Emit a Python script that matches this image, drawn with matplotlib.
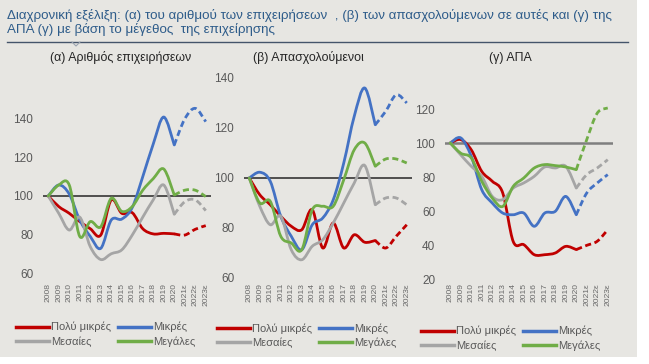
import numpy as np
import matplotlib
matplotlib.use("Agg")
import matplotlib.pyplot as plt
from matplotlib.path import Path
from matplotlib.patches import PathPatch, Rectangle
from matplotlib.lines import Line2D

plt.rcParams['font.family'] = ['Liberation Sans', 'DejaVu Sans']

years = ['2008', '2009', '2010', '2011', '2012', '2013', '2014', '2015',
         '2016', '2017', '2018', '2019', '2020', '2021ε', '2022ε', '2023ε']
series_names = ['Πολύ μικρές', 'Μικρές', 'Μεσαίες', 'Μεγάλες']

# (α) Αριθμός επιχειρήσεων
firms_very_small = [100, 94.5, 91, 86.7, 83, 79.7, 98, 91, 91.3, 83, 80.3, 80.6, 80.3, 79.7, 82.7, 84.6]
firms_small = [100, 105.7, 101, 87.5, 79, 72.8, 87.5, 88, 94, 110, 127, 141, 126.5, 140, 145.5, 138.6]
firms_medium = [100, 91, 82.3, 89, 73.7, 67, 70, 72, 79.7, 89, 98, 105.7, 90.5, 97, 98, 92.4]
firms_large = [100, 105.7, 105.7, 79, 86.7, 84, 98.8, 92, 94.5, 103, 109, 114, 100.5, 103, 103, 99.7]

# (β) Απασχολούμενοι
empl_very_small = [100, 93.3, 89.3, 84.7, 80.7, 79.3, 87.3, 72, 82, 72, 77.3, 74.3, 75, 72, 76.7, 81.3]
empl_small = [100, 102.3, 98.7, 84.7, 76.7, 71.3, 81.3, 84, 91.3, 106, 124.7, 136, 121.3, 126.7, 133.3, 130]
empl_medium = [100, 88.7, 81.3, 84.7, 71.3, 67.3, 72.7, 75.3, 82, 90, 98, 105, 89.3, 92, 92, 89.3]
empl_large = [100, 90, 90.7, 76.7, 74, 71.3, 87.3, 88.7, 88.7, 99.3, 111.3, 114, 104.7, 107.6, 107.6, 106]

# (γ) ΑΠΑ
gva_very_small = [100, 102, 96, 83.3, 77.5, 70.6, 42, 40.2, 34.3, 34.3, 35.3, 39.2, 37.3, 39.8, 42.2, 49]
gva_small = [100, 103, 92.2, 72.5, 64.7, 58.8, 57.8, 58.8, 51, 58.8, 59.8, 68.6, 57.8, 70.6, 76.5, 81.4]
gva_medium = [100, 93, 86.3, 80.4, 68.6, 66.7, 73.5, 76.5, 80.4, 85.9, 85.3, 86.3, 73.5, 81.4, 85.3, 90.2]
gva_large = [100, 94, 91.2, 77.5, 67.6, 62.7, 74.5, 79.4, 85.3, 87.3, 86.7, 85.9, 84.3, 102, 117.6, 120.6]

colors = ['#C00000', '#4472C4', '#A5A5A5', '#70AD47']
n_actual = 13  # 2008-2020 solid, estimates dashed

W, H = 649, 364
fig = plt.figure(figsize=(W / 100, H / 100), dpi=100)
fig.patch.set_facecolor('#E7E6E2')
fig.add_artist(Rectangle((637 / W, 0), 1, 1, transform=fig.transFigure,
                         facecolor='white', edgecolor='none'))
fig.add_artist(Rectangle((0, 0), 637 / W, 7 / H, transform=fig.transFigure,
                         facecolor='white', edgecolor='none'))

fig.text(7 / W, 1 - 16 / H,
         'Διαχρονική εξέλιξη: (α) του αριθμού των επιχειρήσεων  , (β) των απασχολούμενων σε αυτές και (γ) της',
         fontsize=9.6, color='#2E5C8A', va='center')
fig.text(7 / W, 1 - 29 / H, 'ΑΠΑ (γ) με βάση το μέγεθος  της επιχείρησης',
         fontsize=9.6, color='#2E5C8A', va='center')
fig.add_artist(Line2D([7 / W, 628 / W], [1 - 42 / H, 1 - 42 / H],
                      transform=fig.transFigure, color='#44546A', lw=1))
fig.add_artist(Line2D([72 / W, 76 / W, 80 / W], [1 - 42 / H, 1 - 46 / H, 1 - 42 / H],
                      transform=fig.transFigure, color='#9AA3B0', lw=0.8))


def smooth_path(xs, ys):
    # Bezier curve through the points, like a smoothed Excel line
    xs = np.asarray(xs, float)
    ys = np.asarray(ys, float)
    pts = np.column_stack([xs, ys])
    verts = [pts[0]]
    codes = [Path.MOVETO]
    n = len(pts)
    for i in range(n - 1):
        p0 = pts[i - 1] if i > 0 else pts[i]
        p1 = pts[i]
        p2 = pts[i + 1]
        p3 = pts[i + 2] if i + 2 < n else pts[i + 1]
        c1 = p1 + (p2 - p0) / 6
        c2 = p2 - (p3 - p1) / 6
        verts += [c1, c2, p2]
        codes += [Path.CURVE4] * 3
    return Path(verts, codes)


def draw_panel(box, ylim, yticks, data, title, title_x, legend_xy, base_color, base_lw):
    left, top, right, bottom = box
    ax = fig.add_axes([left / W, 1 - bottom / H, (right - left) / W, (bottom - top) / H])
    ax.set_facecolor('none')
    x = np.arange(len(years))
    ax.set_xlim(-0.5, len(years) - 0.5)
    ax.set_ylim(*ylim)
    ax.axhline(100, color=base_color, lw=base_lw, zorder=1)
    for vals, c in zip(data, colors):
        solid = smooth_path(x[:n_actual], vals[:n_actual])
        ax.add_patch(PathPatch(solid, fill=False, edgecolor=c, lw=2.0,
                               capstyle='round', joinstyle='round', zorder=3))
        dash = smooth_path(x[n_actual - 1:], vals[n_actual - 1:])
        ax.add_patch(PathPatch(dash, fill=False, edgecolor=c, lw=2.0,
                               linestyle=(0, (2.2, 1.3)), zorder=3))
    ax.set_yticks(yticks)
    ax.set_xticks(x)
    ax.set_xticklabels(years, rotation=90, fontsize=6.1, color='#6A6A6A')
    ax.tick_params(axis='x', length=0, pad=(283 - bottom) * 0.72)
    ax.tick_params(axis='y', length=0, pad=7, labelsize=8.5, labelcolor='#595959')
    for s in ax.spines.values():
        s.set_visible(False)
    fig.text(title_x / W, 1 - 58 / H, title, fontsize=8.9, color='#262626',
             ha='center', va='center')
    handles = [Line2D([], [], color=c, lw=2.5) for c in colors]
    order = [0, 2, 1, 3]
    fig.legend([handles[i] for i in order], [series_names[i] for i in order],
               loc='upper left', bbox_to_anchor=(legend_xy[0] / W, 1 - legend_xy[1] / H),
               ncol=2, frameon=False, fontsize=8, labelcolor='#595959',
               handlelength=3.0, handletextpad=0.15, columnspacing=0.6,
               labelspacing=0.38, borderpad=0, borderaxespad=0)
    return ax


draw_panel((43, 99.7, 211, 273), (60, 150), [60, 80, 100, 120, 140],
           [firms_very_small, firms_small, firms_medium, firms_large],
           '(α) Αριθμός επιχειρήσεων', 121, (16, 322), '#262626', 1.1)
draw_panel((244, 78, 412, 278), (60, 140), [60, 80, 100, 120, 140],
           [empl_very_small, empl_small, empl_medium, empl_large],
           '(β) Απασχολούμενοι', 308, (217, 323), '#262626', 1.1)
draw_panel((445, 92, 613, 279), (20, 130), [20, 40, 60, 80, 100, 120],
           [gva_very_small, gva_small, gva_medium, gva_large],
           '(γ) ΑΠΑ', 510, (421, 326), '#7F7F7F', 1.8)

fig.savefig('out.png', dpi=100, facecolor=fig.get_facecolor())
